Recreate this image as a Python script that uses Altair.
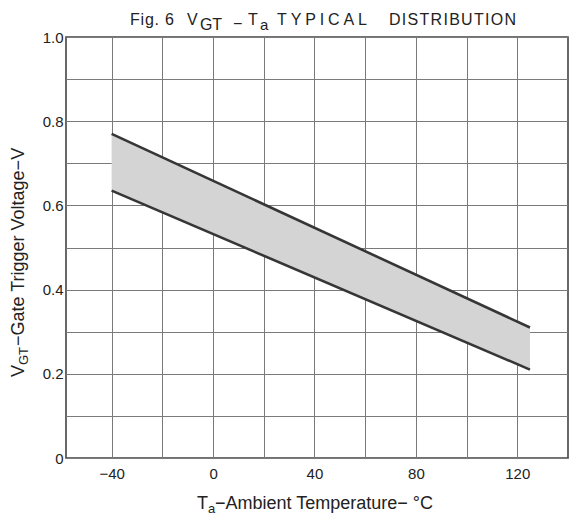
import altair as alt
import pandas as pd

# ---- data ----
temp_c = [-40, 125]
vgt_upper = [0.77, 0.31]
vgt_lower = [0.635, 0.21]
x_grid = [-40, -20, 0, 20, 40, 60, 80, 100, 120]
y_grid = [0.0, 0.1, 0.2, 0.3, 0.4, 0.5, 0.6, 0.7, 0.8, 0.9, 1.0]

df = pd.DataFrame({"t": temp_c, "upper": vgt_upper, "lower": vgt_lower})
one = pd.DataFrame({"k": [0]})

FONT = "Liberation Sans"
INK = "#222222"
LEFT, TOP = 66, 37

x_scale = alt.Scale(domain=[-58, 140], nice=False, zero=False)
y_scale = alt.Scale(domain=[0, 1], nice=False, zero=False)

x_axis = alt.Axis(
    values=x_grid, grid=True, gridColor="#7a7a7a", gridWidth=1,
    ticks=False, domain=False, title=None, labelFlush=False,
    labelExpr="datum.value % 40 == 0 ? (datum.value < 0 ? '\u2212' + abs(datum.value) : '' + datum.value) : ''",
    labelFont=FONT, labelFontSize=15, labelColor=INK, labelPadding=8,
)
y_axis = alt.Axis(
    values=y_grid, grid=True, gridColor="#7a7a7a", gridWidth=1,
    ticks=False, domain=False, title=None, labelFlush=False,
    labelExpr="datum.value == 0 ? '0' : (round(datum.value * 10) % 2 == 0 ? format(datum.value, '.1f') : '')",
    labelFont=FONT, labelFontSize=15, labelColor=INK, labelPadding=3,
)

base = alt.Chart(df)
band = base.mark_area(color="#d4d4d4", opacity=1).encode(
    x=alt.X("t:Q", scale=x_scale, axis=x_axis),
    y=alt.Y("upper:Q", scale=y_scale, axis=y_axis),
    y2="lower:Q",
)
up_line = base.mark_line(color="#363636", strokeWidth=2.6).encode(
    x=alt.X("t:Q", scale=x_scale), y=alt.Y("upper:Q", scale=y_scale)
)
lo_line = base.mark_line(color="#363636", strokeWidth=2.6).encode(
    x=alt.X("t:Q", scale=x_scale), y=alt.Y("lower:Q", scale=y_scale)
)


def txt(s, x, y, size, angle=0, dy=0):
    kw = dict(text=s, font=FONT, fontSize=size, align="left",
              baseline="alphabetic", dy=dy, color=INK)
    if angle:
        kw["angle"] = angle
    return alt.Chart(one).mark_text(**kw).encode(x=alt.value(x), y=alt.value(y))


# approximate Arial/Liberation advance widths (per 1000 em), used to letter-space the title
ADV = {"F": 611, "i": 222, "g": 556, ".": 278, " ": 278, "6": 556, "V": 667,
       "G": 778, "T": 611, "a": 556, "Y": 667, "P": 667, "I": 278, "C": 722,
       "A": 667, "L": 556, "D": 722, "S": 667, "R": 722, "B": 667, "U": 722,
       "O": 778, "N": 722, "\u2212": 584}


def spaced(word, x0, x1, y, size, dy=0):
    """Letter-spaced word laid out from x0 to x1 (absolute page pixels)."""
    widths = [ADV.get(c, 556) * size / 1000 for c in word]
    extra = 0 if (x1 is None or len(word) < 2) else (x1 - x0 - sum(widths)) / (len(word) - 1)
    out, x = [], x0
    for c, w in zip(word, widths):
        if c != " ":
            out.append(txt(c, x - LEFT, y, size, dy=dy))
        x += w + extra
    return out


TY = 25 - TOP  # title baseline
texts = []
texts += spaced("Fig. 6", 130, 174, TY, 16)
texts += spaced("V", 187, None, TY, 16)
texts += spaced("GT", 200, 222, TY, 16, dy=5)
texts += spaced("\u2212", 233, None, TY, 16, dy=4)
texts += spaced("T", 248, None, TY, 16)
texts += spaced("a", 260, None, TY, 15, dy=5)
texts += spaced("TYPICAL", 277, 367, TY, 16)
texts += spaced("DISTRIBUTION", 389, 516, TY, 16)

texts += [
    # y-axis title (rotated)
    txt("V", -42, 340, 18, angle=270),
    txt("GT", -42, 328, 13, angle=270, dy=4),
    txt("\u2212Gate Trigger Voltage\u2212V", -42, 309, 18, angle=270),
    # x-axis title
    txt("T", 131, 472, 18),
    txt("a", 142, 472, 13, dy=4),
    txt("\u2212Ambient Temperature\u2212 \u00b0C", 149, 472, 18),
]

chart = alt.layer(band, up_line, lo_line, *texts).properties(
    width=502, height=421,
    autosize=alt.AutoSizeParams(type="none"),
    padding={"left": LEFT, "top": TOP, "right": 1, "bottom": 60},
    background="white",
).configure_view(stroke="#444444", strokeWidth=1.6)

chart.save("out.html", embed_options={"renderer": "svg", "actions": False})
